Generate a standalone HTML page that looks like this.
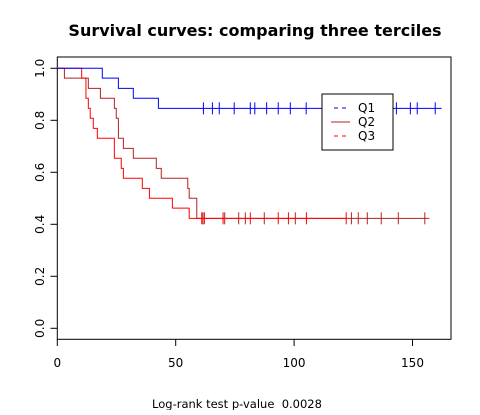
<!DOCTYPE html>
<html><head><meta charset="utf-8"><style>
body{margin:0;background:#fff}
svg text{font-family:"DejaVu Sans","Liberation Sans",sans-serif;fill:#000}
</style></head><body>
<svg id="chart" width="480" height="410" viewBox="0 0 480 410">
<text x="255" y="36" font-size="16" font-weight="bold" text-anchor="middle">Survival curves: comparing three terciles</text>
<rect x="57.3" y="57" width="393.7" height="282.3" fill="none" stroke="#000"/>
<g id="axes"></g>
<g id="series"></g>
<g>
<rect x="322" y="94" width="71" height="56" fill="#fff" stroke="#000"/>
<line x1="334" y1="108" x2="348" y2="108" stroke="#0000ff" stroke-dasharray="4,4"/>
<text x="358" y="112" font-size="12">Q1</text>
<line x1="331" y1="122" x2="350" y2="122" stroke="#b22222"/>
<text x="358" y="126" font-size="12">Q2</text>
<line x1="334" y1="136" x2="348" y2="136" stroke="#ff0000" stroke-dasharray="4,4"/>
<text x="358" y="140" font-size="12">Q3</text>
</g>
<text x="237" y="408" font-size="11.5" text-anchor="middle" style="white-space:pre">Log-rank test p-value  0.0028</text>
</svg>
<script>
const xTicks=[0,50,100,150];
const yTicks=[0,0.2,0.4,0.6,0.8,1.0];
const yTickLabels=["0.0","0.2","0.4","0.6","0.8","1.0"];
const q1Times=[19.0,25.8,32.1,42.7];
const q1Surv=[0.962,0.923,0.885,0.846];
const q1Censor=[61.7,65.5,68.4,74.7,81.5,83.4,88.4,93.3,98.4,105.1,143.2,149.1,152.0,159.6];
const q1End=162.3;
const q2Times=[3.0,13.1,18.2,24.1,24.9,25.8,27.9,32.1,41.8,43.9,55.1,55.7,58.9];
const q2Surv=[0.962,0.923,0.885,0.846,0.808,0.731,0.692,0.654,0.615,0.577,0.538,0.5,0.423];
const q2Censor=[61.5,70.7,76.6,79.4,87.4,100.5,124.2,127.1,130.9,136.8,144.0,155.2];
const q2End=157.1;
const q3Times=[10.3,12.1,13.1,13.9,15.2,16.9,24.1,27.0,27.9,35.9,38.9,48.6,55.7];
const q3Surv=[0.962,0.885,0.846,0.808,0.769,0.731,0.654,0.615,0.577,0.538,0.5,0.462,0.423];
const q3Censor=[61.0,62.1,70.0,81.5,93.3,97.6,105.2,122.0];
const q3End=122.0;

const NS="http://www.w3.org/2000/svg";
const X=t=>57.3+t*2.368;
const Y=s=>328.3-s*260;
function mk(tag,attrs,parent){const e=document.createElementNS(NS,tag);for(const k in attrs)e.setAttribute(k,attrs[k]);parent.appendChild(e);return e;}
const axes=document.getElementById('axes');
xTicks.forEach(v=>{
  const l=mk('line',{x1:X(v),x2:X(v),y1:339.3,y2:346,stroke:'#000'},axes);
  
  
  const t=mk('text',{x:X(v),y:367,'font-size':12,'text-anchor':'middle'},axes);
  t.textContent=v;
  
  
});
yTicks.forEach((v,i)=>{
  const l=mk('line',{x1:50.5,x2:57.3,y1:Y(v),y2:Y(v),stroke:'#000'},axes);
  
  
  const t=mk('text',{x:0,y:0,'font-size':12,'text-anchor':'middle',transform:`translate(44,${Y(v)}) rotate(-90)`},axes);
  t.textContent=yTickLabels[i];
  
  
});
const series=document.getElementById('series');
function draw(times,surv,censor,end,color,name){
  let d=`M${X(0)},${Y(1)}`;
  times.forEach((t,i)=>{d+=` H${X(t)} V${Y(surv[i])}`;});
  d+=` H${X(end)}`;
  const p=mk('path',{d:d,fill:'none',stroke:color,'stroke-width':1},series);
  
  
  censor.forEach(c=>{
    let sv=1;times.forEach((t,i)=>{if(t<=c)sv=surv[i];});
    const m=mk('line',{x1:X(c),x2:X(c),y1:Y(sv)-6,y2:Y(sv)+6,stroke:color},series);
    
    
  });
}
draw(q2Times,q2Surv,q2Censor,q2End,'#b22222','q2');
draw(q3Times,q3Surv,q3Censor,q3End,'#ff0000','q3');
draw(q1Times,q1Surv,q1Censor,q1End,'#0000ff','q1');
</script>
</body></html>
